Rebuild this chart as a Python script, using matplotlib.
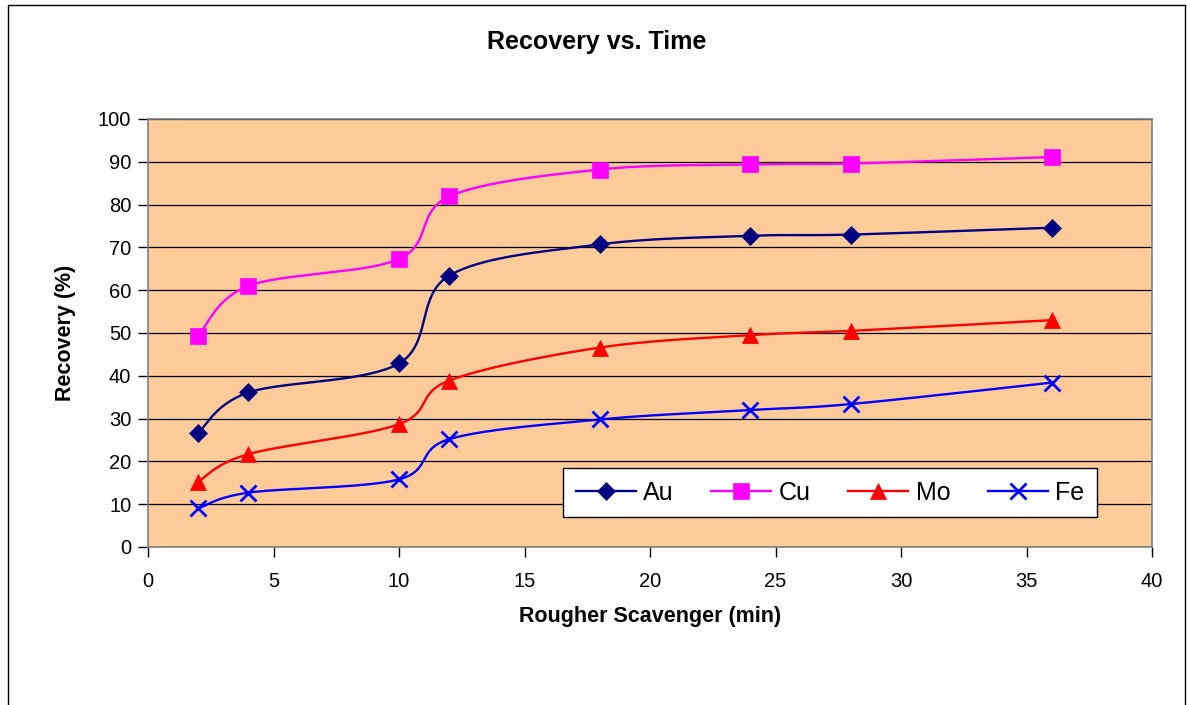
import numpy as np
import matplotlib.pyplot as plt
from matplotlib.patches import Rectangle

plt.rcParams['font.family'] = ['Liberation Sans', 'DejaVu Sans']

# Tiempos de muestreo (min) y recuperaciones (%) por elemento
tiempo = [2, 4, 10, 12, 18, 24, 28, 36]
au = [26.7, 36.1, 42.9, 63.4, 70.7, 72.7, 73.0, 74.6]
cu = [49.3, 61.0, 67.3, 81.9, 88.2, 89.4, 89.6, 91.1]
mo = [15.3, 21.7, 28.7, 38.9, 46.6, 49.5, 50.5, 53.0]
fe = [9.0, 12.7, 15.8, 25.2, 29.8, 32.0, 33.4, 38.4]


def suavizar(x, y, n=40):
    # curva bezier tipo Excel entre puntos consecutivos
    x = np.asarray(x, float)
    y = np.asarray(y, float)
    px = np.concatenate([[x[0]], x, [x[-1]]])
    py = np.concatenate([[y[0]], y, [y[-1]]])
    t = np.linspace(0, 1, n)
    xs, ys = [], []
    for i in range(1, len(px) - 2):
        p0 = np.array([px[i], py[i]])
        p3 = np.array([px[i + 1], py[i + 1]])
        p1 = p0 + (p3 - np.array([px[i - 1], py[i - 1]])) / 6
        p2 = p3 - (np.array([px[i + 2], py[i + 2]]) - p0) / 6
        b = ((1 - t) ** 3)[:, None] * p0 + (3 * (1 - t) ** 2 * t)[:, None] * p1 \
            + (3 * (1 - t) * t ** 2)[:, None] * p2 + (t ** 3)[:, None] * p3
        xs.extend(b[:, 0])
        ys.extend(b[:, 1])
    return xs, ys


fig = plt.figure(figsize=(11.87, 7.05), dpi=100)
fig.patches.append(Rectangle((8 / 1187, -0.05), 1177 / 1187, 1.05 - 5 / 705,
                             transform=fig.transFigure, fill=False,
                             edgecolor='black', linewidth=1))

ax = fig.add_axes([148 / 1187, 158 / 705, 1004 / 1187, 428 / 705])
ax.set_facecolor('#FFCC99')

series = [
    ('Au', au, '#000080', 'D', 9),
    ('Cu', cu, '#FF00FF', 's', 11),
    ('Mo', mo, '#FF0000', '^', 11),
    ('Fe', fe, '#0000FF', 'x', 11),
]
for nombre, valores, color, marcador, tam in series:
    sx, sy = suavizar(tiempo, valores)
    ax.plot(sx, sy, color=color, linewidth=1.7, zorder=3)
    ax.plot(tiempo, valores, linestyle='none', marker=marcador, markersize=tam,
            color=color, markeredgewidth=2 if marcador == 'x' else 0.5, zorder=4)
    # elemento para la leyenda
    ax.plot([], [], color=color, linewidth=1.7, marker=marcador, markersize=tam,
            markeredgewidth=2 if marcador == 'x' else 0.5, label=nombre)

ax.set_xlim(0, 40)
ax.set_ylim(0, 100)
ax.set_xticks(range(0, 41, 5))
ax.set_yticks(range(0, 101, 10))
ax.yaxis.grid(True, color='black', linewidth=0.9)
ax.set_axisbelow(True)
for lado in ['top', 'right', 'left', 'bottom']:
    ax.spines[lado].set_color('#808080')
    ax.spines[lado].set_linewidth(1.2)
ax.tick_params(direction='out', length=7, width=1, color='black', labelsize=14.5, pad=5)
ax.tick_params(axis='x', pad=11)

fig.text(597 / 1187, 1 - 42 / 705, 'Recovery vs. Time', fontsize=18, fontweight='bold',
         ha='center', va='center')
ax.set_xlabel('Rougher Scavenger (min)', fontsize=15.5, fontweight='bold', labelpad=11)
ax.set_ylabel('Recovery (%)', fontsize=15.5, fontweight='bold', labelpad=16)

leg = ax.legend(ncol=4, loc='upper left', bbox_to_anchor=(415 / 1004, 1 - 349 / 428),
                borderaxespad=0, fontsize=18, frameon=True, fancybox=False,
                framealpha=1, edgecolor='black', handlelength=2.4, columnspacing=1.5,
                handletextpad=0.3, borderpad=0.5)
leg.get_frame().set_linewidth(1)

plt.savefig('out.png', dpi=100)
